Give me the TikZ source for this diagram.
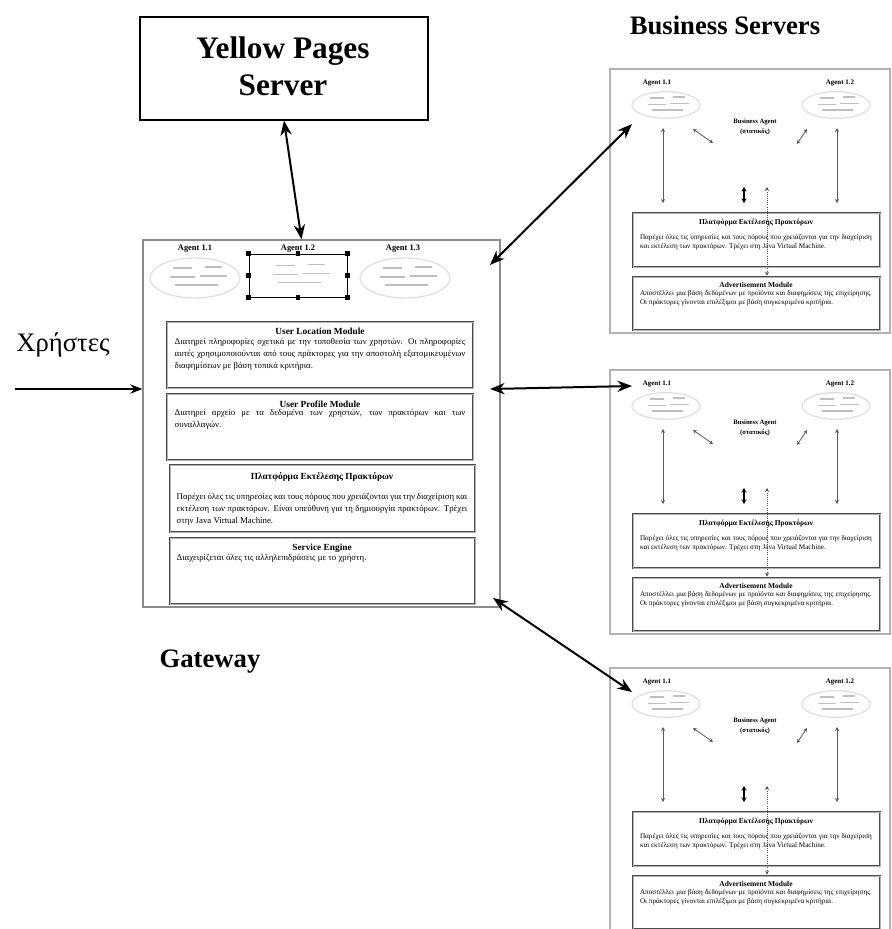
\documentclass[tikz,border=0pt]{standalone}
\usepackage{fontspec}
\setmainfont{Liberation Serif}
\usetikzlibrary{arrows.meta,calc,fit,shapes.geometric}

\newcommand{\fsz}[2]{\fontsize{#1}{#2}\selectfont}

\tikzset{
  bigtitle/.style={font=\bfseries\fsz{23.5}{28}, align=center, inner sep=0},
  ypbox/.style={draw=black, line width=1pt, inner sep=0},
  gwframe/.style={draw=black!45, line width=1pt, inner sep=0},
  panelframe/.style={draw=black!30, line width=0.8pt, inner sep=0},
  modbox/.style={draw=black!70, line width=2pt, inner sep=0,
                 postaction={draw=black!30, line width=0.6pt}},
  modtitle/.style={font=\bfseries\fsz{7}{8}, inner sep=0},
  modbody/.style={font=\fsz{6.6}{9}, text width=218pt, align=justify, anchor=north, inner sep=0},
  ptitle/.style={font=\bfseries\fsz{5.6}{6.5}, inner sep=0},
  pbody/.style={font=\fsz{5.4}{7.2}, text width=174pt, align=justify, anchor=north, inner sep=0},
  agentlbl/.style={font=\bfseries\fsz{6.3}{7}, inner sep=0},
  pagentlbl/.style={font=\bfseries\fsz{5.2}{6}, inner sep=0},
  agentoval/.style={ellipse, draw=black!12, line width=1pt, inner sep=0},
  blobline/.style={draw=black!25, line width=1.1pt},
  bigarrow/.style={line width=1.5pt, {Stealth[length=11pt,width=8.5pt]}-{Stealth[length=11pt,width=8.5pt]}},
  smallarrow/.style={draw=black!65, line width=0.6pt, {Stealth[length=3pt,width=3pt]}-{Stealth[length=3pt,width=3pt]}},
  thickpair/.style={line width=1.4pt, {Stealth[length=3.5pt,width=4pt]}-{Stealth[length=3.5pt,width=4pt]}},
  dotlink/.style={draw=black!70, line width=0.6pt, densely dotted, {Stealth[length=3pt,width=3pt]}-{Stealth[length=3pt,width=3pt]}},
  blob/.pic={
    \draw[blobline] (-22,-10) -- (-3,-10) (-25,-1) -- (0,-1)
                    (10,-11) -- (27,-11) (5,-2) -- (32,-2)
                    (-20,7) -- (23,7);
  }
}

\begin{document}
\begin{tikzpicture}[x=0.75pt,y=-0.75pt]
\useasboundingbox (0,0) rectangle (892,929);
\clip (0,0) rectangle (892,929);

% ---------- Yellow Pages server ----------
\node[ypbox, fit={(140,17)(428,120)}] (yp) {};
\node[bigtitle] (ypT) at (283,66) {Yellow Pages\\Server};

% ---------- headings ----------
\node[font=\bfseries\fsz{20}{24}, inner sep=0] (bsT) at (725,25) {Business Servers};
\node[font=\bfseries\fsz{20}{24}, inner sep=0] (gwT) at (210,662) {Gateway};
\node[font=\fsz{20}{24}, inner sep=0] (usr) at (63,345) {Χρήστες};

% ---------- Gateway ----------
\node[gwframe, fit={(143,240)(500,607)}] (gw) {};

\node[agentlbl] (g1l) at (195,249) {Agent 1.1};
\node[agentlbl] (g2l) at (298,249) {Agent 1.2};
\node[agentlbl] (g3l) at (403,249) {Agent 1.3};

\node[agentoval, minimum width=67.5pt, minimum height=30pt] (g1) at (195,278) {};
\node[agentoval, minimum width=67.5pt, minimum height=30pt] (g3) at (405,278) {};
\pic at (g1.center) {blob};
\pic at (g3.center) {blob};

% selected agent with its handles
\node[draw=black, line width=0.5pt, inner sep=0, fit={(249,254)(347,297)}] (sel) {};
\pic at (sel.center) {blob};
\foreach \a in {north west,north,north east,east,south east,south,south west,west}
  \fill (sel.\a) +(-2.2,-2.2) rectangle +(2.2,2.2);

% modules
\node[modbox, fit={(167,322)(473,388)}] (ulm) {};
\node[modtitle] (ulmT) at (320,331) {User Location Module};
\node[modbody] (ulmB) at (320,338.5) {Διατηρεί πληροφορίες σχετικά με την τοποθεσία των χρηστών. Οι πληροφορίες αυτές χρησιμοποιούνται από τους πράκτορες για την αποστολή εξατομικευμένων διαφημίσεων με βάση τοπικά κριτήρια.};

\node[modbox, fit={(167,394)(473,460)}] (upm) {};
\node[modtitle] (upmT) at (320,404) {User Profile Module};
\node[modbody] (upmB) at (320,409.5) {Διατηρεί αρχείο με τα δεδομένα των χρηστών, των πρακτόρων και των συναλλαγών.};

\node[modbox, fit={(170,465)(475,532)}] (pep) {};
\node[modtitle] (pepT) at (322,477) {Πλατφόρμα Εκτέλεσης Πρακτόρων};
\node[modbody] (pepB) at (322,493.5) {Παρέχει όλες τις υπηρεσίες και τους πόρους που χρειάζονται για την διαχείριση και εκτέλεση των πρακτόρων. Είναι υπεύθυνη για τη δημιουργία πρακτόρων. Τρέχει στην Java Virtual Machine.};

\node[modbox, fit={(170,538)(475,604)}] (se) {};
\node[modtitle] (seT) at (322,548) {Service Engine};
\node[modbody] (seB) at (322,554.5) {Διαχειρίζεται όλες τις αλληλεπιδράσεις με το χρήστη.};

% ---------- Business servers ----------
\foreach \t/\i in {69/1,370/2,668/3}{
  \node[panelframe, fit={(610,\t)(890,{\t+264})}] (p\i) {};
  \node[pagentlbl] (p\i l1) at (657,{\t+14}) {Agent 1.1};
  \node[pagentlbl] (p\i l2) at (840,{\t+14}) {Agent 1.2};
  \node[agentoval, minimum width=51pt, minimum height=20pt] (p\i a1) at (666,{\t+36}) {};
  \node[agentoval, minimum width=51pt, minimum height=20pt] (p\i a2) at (836,{\t+36}) {};
  \pic[scale=0.72] at (p\i a1.center) {blob};
  \pic[scale=0.72] at (p\i a2.center) {blob};
  \node[font=\bfseries\fsz{5}{7}, align=center, inner sep=0] (p\i ba) at (755,{\t+58}) {Business Agent\\(στατικός)};

  \node[modbox, fit={(633,{\t+144})(880,{\t+198})}] (p\i pl) {};
  \node[ptitle] (p\i plT) at (756,{\t+154}) {Πλατφόρμα Εκτέλεσης Πρακτόρων};
  \node[pbody] (p\i plB) at (756,{\t+165}) {Παρέχει όλες τις υπηρεσίες και τους πόρους που χρειάζονται για την διαχείριση και εκτέλεση των πρακτόρων. Τρέχει στη Java Virtual Machine.};

  \node[modbox, fit={(633,{\t+208})(880,{\t+261})}] (p\i ad) {};
  \node[ptitle] (p\i adT) at (756,{\t+216}) {Advertisement Module};
  \node[pbody] (p\i adB) at (756,{\t+221}) {Αποστέλλει μια βάση δεδομένων με προϊόντα και διαφημίσεις της επιχείρησης. Οι πράκτορες γίνονται επιλέξιμοι με βάση συγκεκριμένα κριτήρια.};

  % link end points inside the server
  \coordinate (p\i d1a) at (693,{\t+60});
  \coordinate (p\i d1b) at (713,{\t+74});
  \coordinate (p\i d2a) at (807,{\t+60});
  \coordinate (p\i d2b) at (797,{\t+75});
  \coordinate (p\i v1a) at (663,{\t+59});
  \coordinate (p\i v1b) at (663,{\t+134});
  \coordinate (p\i v2a) at (837,{\t+59});
  \coordinate (p\i v2b) at (837,{\t+134});
  \coordinate (p\i m1) at (744,{\t+118});
  \coordinate (p\i m2) at (744,{\t+134});
  \coordinate (p\i q1) at (767,{\t+118});

  \draw[smallarrow] (p\i d1a) -- (p\i d1b);
  \draw[smallarrow] (p\i d2a) -- (p\i d2b);
  \draw[smallarrow] (p\i v1a) -- (p\i v1b);
  \draw[smallarrow] (p\i v2a) -- (p\i v2b);
  \draw[thickpair] (p\i m1) -- (p\i m2);
  \draw[dotlink] (p\i q1) -- (p\i q1 |- p\i ad.north);
}

% ---------- connections ----------
\draw[bigarrow] (yp.south) -- ($(gw.north)+(-20,0)$);

\coordinate (gA) at (490,265);
\coordinate (gB) at (490,389);
\coordinate (gC) at (493,598);
\coordinate (sA) at (632,124);
\coordinate (sB) at (632,386);
\coordinate (sC) at (632,692);
\draw[bigarrow] (gA) -- (sA);
\draw[bigarrow] (gB) -- (sB);
\draw[bigarrow] (gC) -- (sC);

\coordinate (uIn) at (15,389);
\draw[line width=1pt, -{Stealth[length=9pt,width=7pt]}] (uIn) -- (uIn -| gw.west);

\end{tikzpicture}
\end{document}
